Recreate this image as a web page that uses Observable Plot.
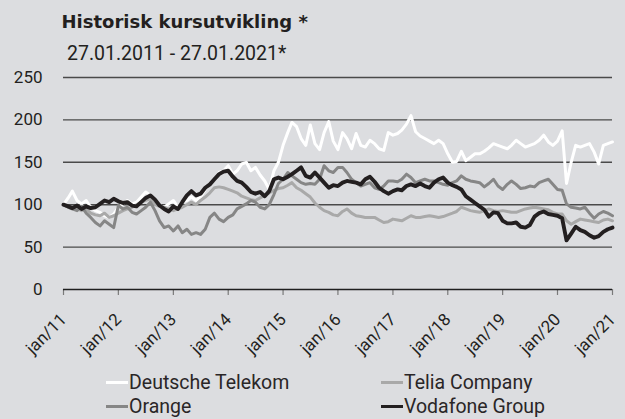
<!DOCTYPE html>
<html>
<head>
<meta charset="utf-8">
<script src="https://cdn.jsdelivr.net/npm/d3@7"></script>
<script src="https://cdn.jsdelivr.net/npm/@observablehq/plot@0.6"></script>
<style>
  html, body { margin: 0; padding: 0; background: #dcdde0; }
  body { width: 625px; height: 419px; position: relative; overflow: hidden; font-family: Roboto, "Noto Sans", sans-serif; color: #231f20; }
  #title { position: absolute; left: 61.5px; top: 13px; font: bold 18px/18px "DejaVu Sans", sans-serif; white-space: nowrap; }
  #subtitle { position: absolute; left: 67px; top: 43.6px; font: 400 19.5px/19.5px Roboto, sans-serif; white-space: nowrap; }
  #chart { position: absolute; left: 0; top: 64px; }
  .leg { position: absolute; font: 400 19.5px/20px Roboto, sans-serif; white-space: nowrap; color: #2a2627; }
  .sw { position: absolute; width: 22px; height: 3px; }
</style>
</head>
<body>
<div id="title">Historisk kursutvikling *</div>
<div id="subtitle">27.01.2011 - 27.01.2021*</div>
<div id="chart"></div>
<div id="legend"></div>
<script>
// Series names and colours
const seriesNames = ["Deutsche Telekom", "Telia Company", "Orange", "Vodafone Group"];
const seriesColors = ["#ffffff", "#a9a9a9", "#868686", "#231f20"];

// Monthly index values (Jan 2011 = 100), Jan 2011 .. Jan 2021
const deutscheTelekom = [
  100,108,116,105,101,105,97,93,91,87,85,89,97,101,105,101,103,109,115,111,103,99,97,101,105,97,103,105,109,105,109,
  118,125,130,138,140,146,136,140,148,150,140,144,135,128,118,140,150,170,185,197,192,178,170,194,172,165,185,198,175,165,
  185,178,166,184,170,168,176,172,166,164,185,182,184,188,195,205,186,181,178,175,172,176,172,160,150,151,163,152,156,160,
  160,163,167,172,170,168,166,170,176,172,168,170,172,176,182,174,170,175,187,125,150,170,168,170,172,162,148,170,172,174
];
const teliaCompany = [
  100,98,95,95,93,95,90,88,87,90,85,87,90,93,95,97,100,103,105,107,100,98,97,95,93,95,97,100,103,100,105,
  109,114,120,121,120,118,116,114,110,108,106,105,108,111,114,117,119,120,123,126,120,117,113,109,102,97,93,91,88,87,
  92,95,90,87,86,85,85,85,82,79,80,83,82,81,84,87,85,85,86,87,86,85,86,88,90,92,97,95,93,92,
  91,93,95,93,92,93,92,91,91,93,95,96,97,96,95,94,91,89,89,81,77,80,83,82,81,80,79,82,83,81
];
const orange = [
  100,97,95,93,98,90,85,79,75,81,77,73,99,95,97,91,89,93,97,103,93,81,73,75,69,75,67,71,65,67,65,
  71,85,90,83,80,85,88,95,98,101,105,103,97,95,100,112,125,130,138,134,130,126,124,125,124,130,146,140,138,144,
  144,138,130,126,122,124,126,120,118,122,128,128,127,130,136,132,126,128,130,128,128,126,124,123,126,128,134,130,128,127,
  126,121,125,130,122,118,124,128,124,119,120,122,121,126,128,130,124,118,117,101,97,96,95,97,90,84,89,92,90,87
];
const vodafone = [
  100,98,96,99,95,98,96,97,101,105,103,107,104,102,103,99,98,103,108,111,106,99,95,92,98,95,103,111,116,111,113,
  120,124,130,136,139,140,133,128,126,121,115,113,115,110,116,130,132,130,133,136,140,144,134,132,138,132,126,120,123,122,
  126,128,127,126,124,130,133,127,120,116,113,116,118,117,122,124,122,125,122,120,126,130,132,126,123,121,118,110,106,102,
  98,94,86,91,90,81,78,78,79,74,73,76,86,90,92,89,88,87,84,58,66,74,70,68,64,61,63,68,71,73
];

// Axis ticks
const yTicks = [0, 50, 100, 150, 200, 250];
const gridValues = [50, 100, 150, 200, 250];
const tickYears = [2011, 2012, 2013, 2014, 2015, 2016, 2017, 2018, 2019, 2020, 2021];

const allSeries = [deutscheTelekom, teliaCompany, orange, vodafone];
const toRows = (vals, name) => vals.map((v, m) => ({date: new Date(Date.UTC(2011, m, 1)), value: v, series: name}));
const rows = allSeries.map((vals, i) => toRows(vals, seriesNames[i]));
const tickDates = tickYears.map(y => new Date(Date.UTC(y, 0, 1)));
const widths = [3, 3, 3, 3.9];
const order = [0, 1, 2, 3];

const chart = Plot.plot({
  width: 625,
  height: 300,
  marginLeft: 63,
  marginRight: 13,
  marginTop: 13,
  marginBottom: 75,
  style: {background: "transparent", fontFamily: "Roboto, sans-serif", color: "#231f20"},
  x: {type: "utc", domain: [tickDates[0], tickDates[tickDates.length - 1]], label: null},
  y: {domain: [0, 250], label: null},
  marks: [
    Plot.gridY(gridValues, {stroke: "#4a4a4a", strokeOpacity: 1, strokeWidth: 1.4}),
    Plot.axisY({ticks: yTicks, tickSize: 0, tickPadding: 21, fontSize: 17, fill: "#231f20", label: null}),
    Plot.axisX({ticks: tickDates, tickSize: 6, stroke: "#7a7a7a", strokeWidth: 1.2, tickFormat: () => "", label: null}),
    Plot.axisX({ticks: tickDates, tickSize: 0, tickPadding: 0, tickRotate: -45, fontSize: 17, fill: "#231f20",
      textAnchor: "end", lineAnchor: "bottom", dx: 4, dy: 31, label: null,
      tickFormat: d => "jan/" + String(d.getUTCFullYear()).slice(2)}),
    Plot.ruleY([0], {stroke: "#1f1f1f", strokeWidth: 1.4}),
    ...order.map(i => Plot.line(rows[i], {x: "date", y: "value", stroke: seriesColors[i], strokeWidth: widths[i], strokeLinejoin: "round", strokeLinecap: "round"}))
  ]
});
document.getElementById("chart").appendChild(chart);

// Legend (two columns, two rows)
const legendPos = [[106, 372.5], [381, 372.5], [106, 396.5], [381, 396.5]];
const legend = document.getElementById("legend");
seriesNames.forEach((name, i) => {
  const [lx, ly] = legendPos[i];
  const sw = document.createElement("div");
  sw.className = "sw";
  sw.style.left = lx + "px";
  sw.style.top = (ly + 8) + "px";
  sw.style.background = seriesColors[i];
  legend.appendChild(sw);
  const t = document.createElement("div");
  t.className = "leg";
  t.style.left = (lx + 23) + "px";
  t.style.top = ly + "px";
  t.textContent = name;
  legend.appendChild(t);
});
</script>
</body>
</html>
